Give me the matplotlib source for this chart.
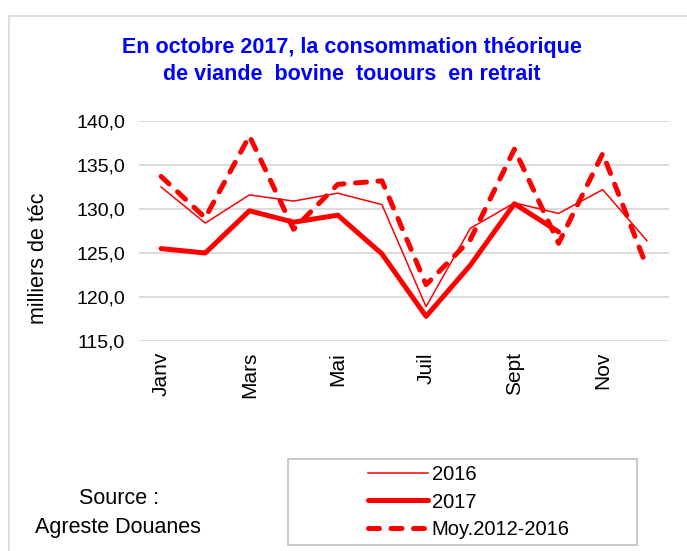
import matplotlib.pyplot as plt
from matplotlib.lines import Line2D
from matplotlib.patches import Rectangle
from matplotlib.ticker import FuncFormatter

plt.rcParams['font.family'] = ['Liberation Sans', 'DejaVu Sans']

mois = ['Janv', 'Fév', 'Mars', 'Avr', 'Mai', 'Juin', 'Juil', 'Août', 'Sept', 'Oct', 'Nov', 'Déc']
v2016 = [132.5, 128.4, 131.6, 130.9, 131.8, 130.5, 118.9, 127.8, 130.7, 129.5, 132.2, 126.4]
v2017 = [125.5, 125.0, 129.8, 128.5, 129.3, 124.9, 117.8, 123.6, 130.6, 127.4]
moy = [133.7, 129.0, 138.3, 127.7, 132.8, 133.2, 121.4, 126.5, 136.8, 126.1, 136.3, 123.4]

W, H = 687, 551
fig = plt.figure(figsize=(W / 100, H / 100), dpi=100)

# cadre du graphique (gris clair, coupé à droite et en bas)
fig.add_artist(Line2D([9 / W, 9 / W], [0, 1 - 16 / H], color='#d9d9d9', lw=1.2))
fig.add_artist(Line2D([9 / W, 1], [1 - 16 / H, 1 - 16 / H], color='#d9d9d9', lw=1.2))

ax = fig.add_axes([139 / W, 1 - 341 / H, 530 / W, 220 / H])
x = list(range(len(mois)))

ax.plot(x, v2016, color='red', lw=1.1, label='2016')
ax.plot(x[:len(v2017)], v2017, color='red', lw=3.6, solid_capstyle='round',
        solid_joinstyle='round', label='2017')
ax.plot(x, moy, color='red', lw=3.6, dashes=(2.2, 2.3), dash_capstyle='round',
        label='Moy.2012-2016')

ax.set_xlim(-0.5, 11.5)
ax.set_ylim(115, 140)
ax.set_yticks([115, 120, 125, 130, 135, 140])
ax.yaxis.set_major_formatter(FuncFormatter(lambda v, p: f'{v:.1f}'.replace('.', ',')))
ax.set_xticks(x[::2])
ax.set_xticklabels(mois[::2], rotation=90, va='top', ha='center')
ax.tick_params(axis='both', length=0, labelsize=14, colors='black')
ax.tick_params(axis='x', labelsize=15, pad=8)
ax.tick_params(axis='y', pad=10)
ax.grid(axis='y', color='#d9d9d9', lw=1.3)
ax.set_axisbelow(True)
for s in ax.spines.values():
    s.set_visible(False)

fig.text(352 / W, 1 - 47 / H, 'En octobre 2017, la consommation théorique',
         color='#0000ff', fontsize=15.5, fontweight='bold', ha='center', va='center')
fig.text(352 / W, 1 - 75 / H, 'de viande  bovine  touours  en retrait',
         color='#0000ff', fontsize=15.5, fontweight='bold', ha='center', va='center')

fig.text(38 / W, 1 - 258 / H, 'milliers de téc', rotation=90, fontsize=15.5,
         ha='center', va='center')

fig.text(119 / W, 1 - 498 / H, 'Source :', fontsize=15.5, ha='center', va='center')
fig.text(118 / W, 1 - 527 / H, 'Agreste Douanes', fontsize=15.5, ha='center', va='center')

fig.add_artist(Rectangle((288 / W, 1 - 545 / H), 349 / W, 86 / H, transform=fig.transFigure,
                         fill=False, edgecolor='#bfbfbf', lw=1.2))
ax.legend(loc='center left', bbox_to_anchor=(358 / W, 1 - 502 / H),
          bbox_transform=fig.transFigure, frameon=False, fontsize=14.5,
          handlelength=3.0, handletextpad=0.15, borderpad=0, labelspacing=0.42)

fig.savefig('out.png', dpi=100)
